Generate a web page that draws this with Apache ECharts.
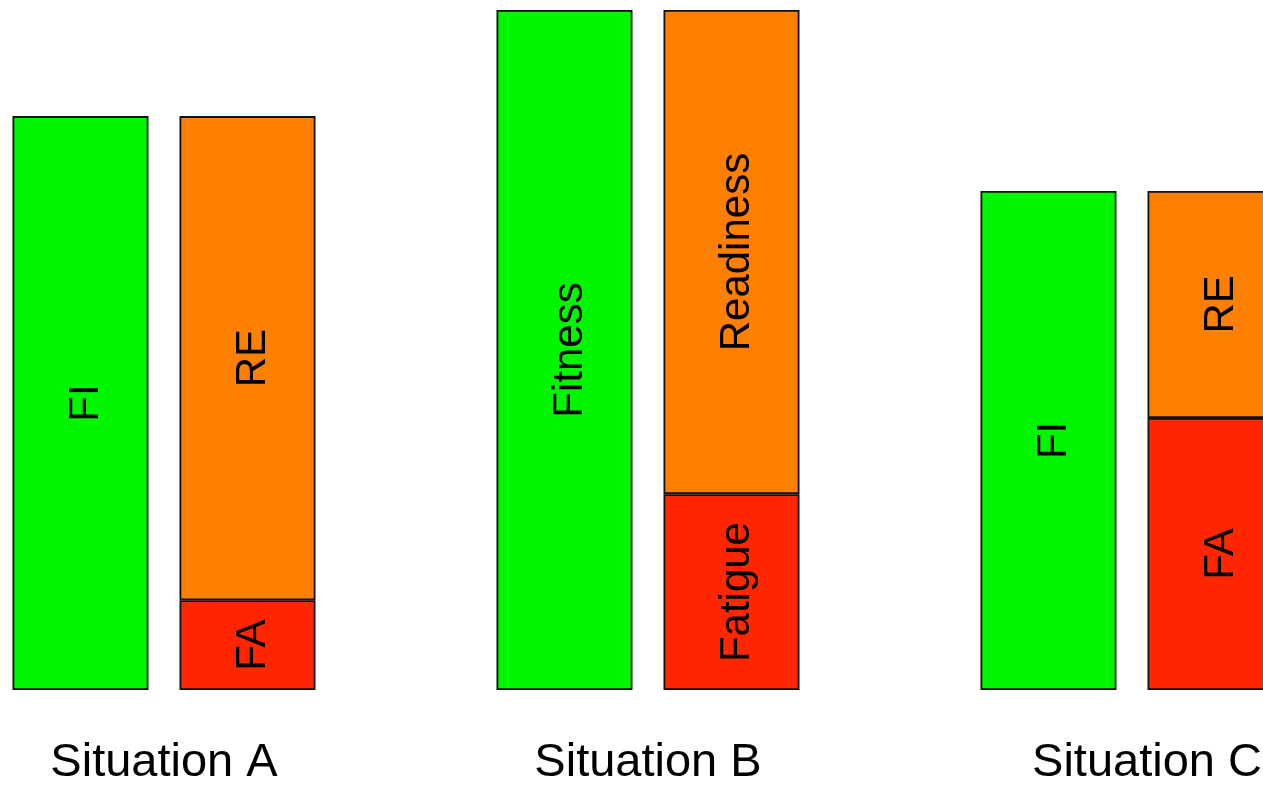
<!DOCTYPE html>
<html>
<head>
<meta charset="utf-8">
<script src="https://cdn.jsdelivr.net/npm/echarts@6/dist/echarts.min.js"></script>
<style>
  html, body { margin: 0; padding: 0; background: #fff; }
  #chart { width: 1263px; height: 785px; }
</style>
</head>
<body>
<div id="chart"></div>
<script>
// Fitness–fatigue model: readiness = fitness − fatigue
const categories = ['Situation A', 'Situation B', 'Situation C'];
const fitness = [84.4, 100, 73.4];
const fatigue = [13.2, 28.8, 40.0];
const readiness = [71.2, 71.2, 33.4];
const fitnessLabels = ['FI', 'Fitness', 'FI'];
const fatigueLabels = ['FA', 'Fatigue', 'FA'];
const readinessLabels = ['RE', 'Readiness', 'RE'];

const chart = echarts.init(document.getElementById('chart'), null, { renderer: 'canvas' });

const FONT = 'Liberation Sans, Arial, sans-serif';

function barLabel(texts) {
  return {
    show: true,
    position: 'inside',
    rotate: 90,
    offset: [0, 6],
    fontFamily: FONT,
    fontSize: 42,
    color: '#000',
    formatter: p => texts[p.dataIndex]
  };
}

const itemStyleBase = { borderColor: '#111', borderWidth: 1.8 };

chart.setOption({
  animation: false,
  backgroundColor: '#fff',
  grid: {
    left: -78, width: 1452, top: 10, bottom: 95,
    containLabel: false,
    outerBoundsMode: 'none'
  },
  xAxis: {
    type: 'category',
    data: categories,
    axisLine: { show: false },
    axisTick: { show: false },
    axisLabel: {
      margin: 50,
      fontFamily: FONT,
      fontSize: 47,
      color: '#000',
      formatter: (v, i) => i === 2 ? '{c|' + v + '}' : v,
      rich: { c: { fontFamily: FONT, fontSize: 47, color: '#000', padding: [0, 0, 0, 30] } }
    }
  },
  yAxis: { type: 'value', min: 0, max: 100, show: false, splitLine: { show: false } },
  series: [
    {
      name: 'Fitness', type: 'bar', stack: 'fi', data: fitness,
      barWidth: 136, barGap: '22.8%',
      itemStyle: Object.assign({ color: '#00F500' }, itemStyleBase),
      label: barLabel(fitnessLabels)
    },
    {
      name: 'Fatigue', type: 'bar', stack: 'rf', data: fatigue,
      barWidth: 136, barGap: '22.8%',
      itemStyle: Object.assign({ color: '#FF2600' }, itemStyleBase),
      label: barLabel(fatigueLabels)
    },
    {
      name: 'Readiness', type: 'bar', stack: 'rf', data: readiness,
      barWidth: 136, barGap: '22.8%',
      itemStyle: Object.assign({ color: '#FF7F00' }, itemStyleBase),
      label: barLabel(readinessLabels)
    }
  ]
});
</script>
</body>
</html>
